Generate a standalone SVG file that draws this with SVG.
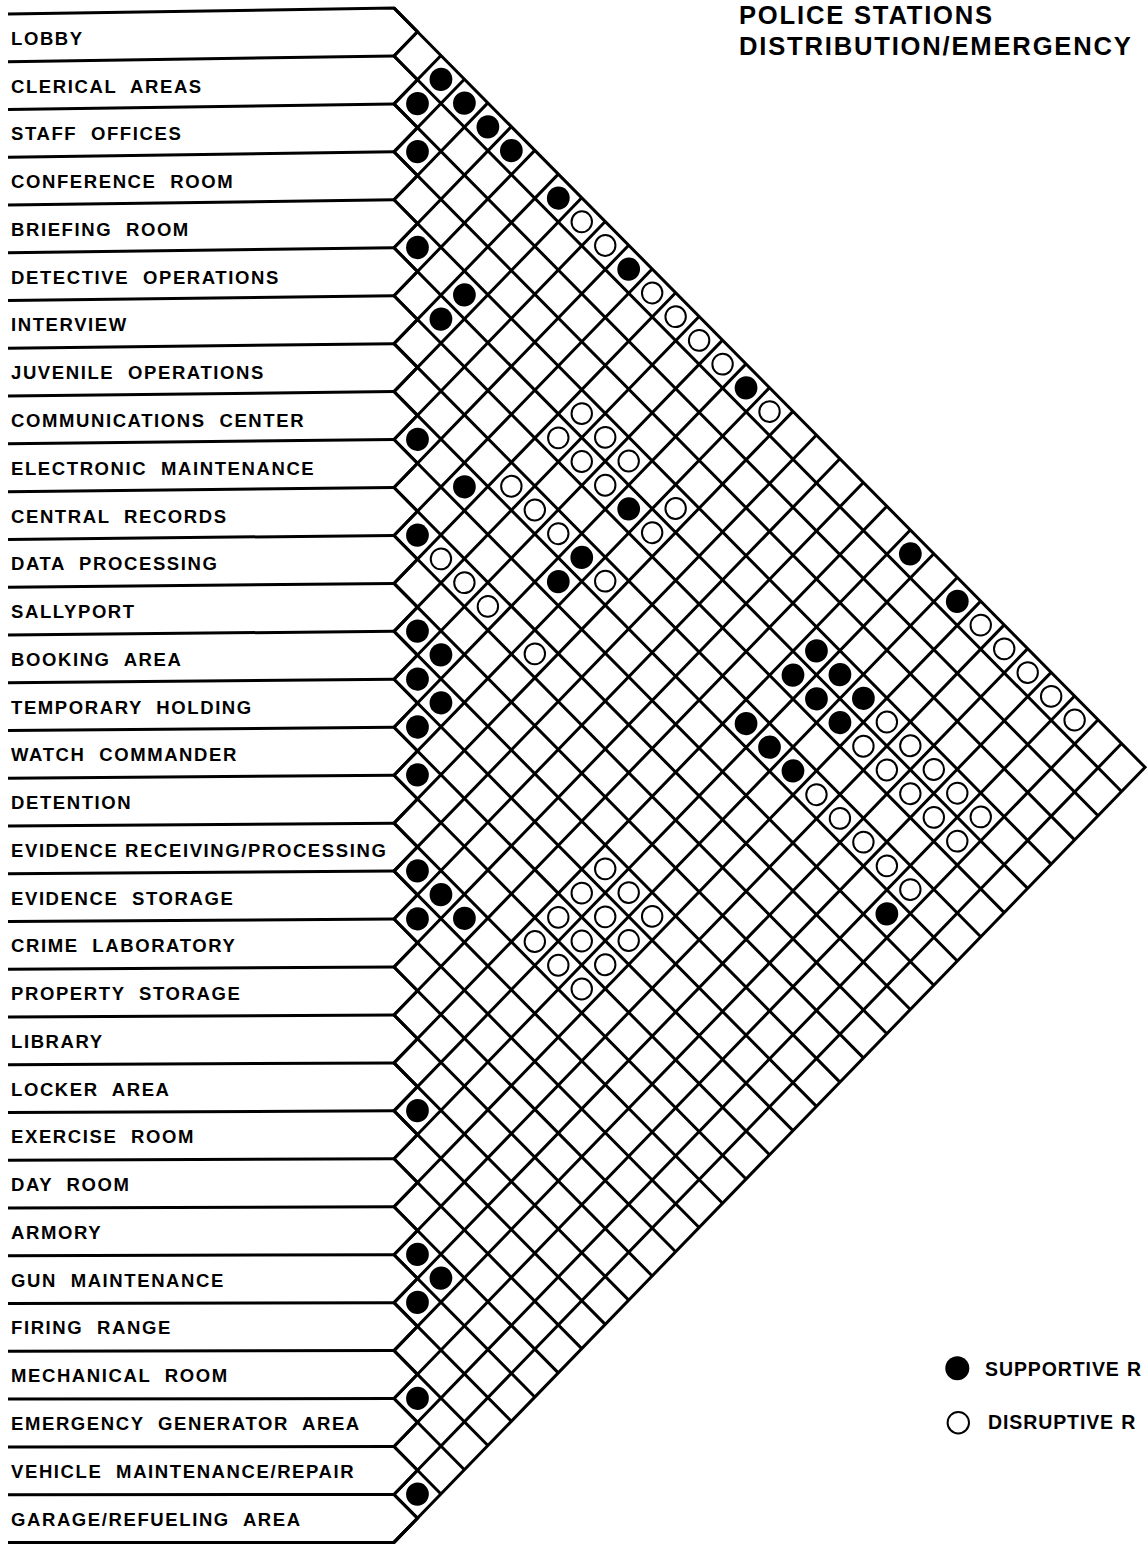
<svg xmlns="http://www.w3.org/2000/svg" width="1148" height="1544" viewBox="0 0 1148 1544">
<style>
.lbl{font-family:"Liberation Sans",Arial,Helvetica,sans-serif;font-weight:bold;font-size:18.5px;letter-spacing:1.6px;word-spacing:7px;fill:#000}
.ttl{font-family:"Liberation Sans",Arial,Helvetica,sans-serif;font-weight:bold;font-size:25.6px;letter-spacing:1.8px;fill:#000}
.leg{font-family:"Liberation Sans",Arial,Helvetica,sans-serif;font-weight:bold;font-size:19.5px;letter-spacing:0.9px;word-spacing:1px;fill:#000}
.ln{fill:none;stroke:#000;stroke-width:3;stroke-linejoin:miter}
.g{fill:none;stroke:#000;stroke-width:3;vector-effect:non-scaling-stroke;stroke-linejoin:miter}
.b{fill:#000}
.o{fill:#fff;stroke:#000;stroke-width:2;vector-effect:non-scaling-stroke}
</style>
<rect width="1148" height="1544" fill="#fff"/>
<g id="title">
<text class="ttl" x="739" y="24">POLICE STATIONS</text>
<text class="ttl" x="739" y="55">DISTRIBUTION/EMERGENCY</text>
</g>
<g id="connectors">
<path class="ln" d="M8,14L394,8L417.47,31.73 M8,61.76L394,55.95 M8,109.53L394,103.9 M8,157.29L394,151.85 M8,205.05L394,199.8 M8,252.81L394,247.75 M8,300.58L394,295.7 M8,348.34L394,343.65 M8,396.1L394,391.6 M8,443.86L394,439.55 M8,491.63L394,487.5 M8,539.39L394,535.45 M8,587.15L394,583.4 M8,634.91L394,631.35 M8,682.68L394,679.3 M8,730.44L394,727.25 M8,778.2L394,775.2 M8,825.96L394,823.15 M8,873.73L394,871.1 M8,921.49L394,919.05 M8,969.25L394,967 M8,1017.01L394,1014.95 M8,1064.78L394,1062.9 M8,1112.54L394,1110.85 M8,1160.3L394,1158.8 M8,1208.06L394,1206.75 M8,1255.83L394,1254.7 M8,1303.59L394,1302.65 M8,1351.35L394,1350.6 M8,1399.11L394,1398.55 M8,1446.88L394,1446.5 M8,1494.64L394,1494.45 M8,1542.4L394,1542.4L417.47,1518.18"/>
<g transform="matrix(23.47,-0.2488,0,23.975,394,8)">
<path class="g" d="M0,2L31,33 M0,4L30,34 M0,6L29,35 M0,8L28,36 M0,10L27,37 M0,12L26,38 M0,14L25,39 M0,16L24,40 M0,18L23,41 M0,20L22,42 M0,22L21,43 M0,24L20,44 M0,26L19,45 M0,28L18,46 M0,30L17,47 M0,32L16,48 M0,34L15,49 M0,36L14,50 M0,38L13,51 M0,40L12,52 M0,42L11,53 M0,44L10,54 M0,46L9,55 M0,48L8,56 M0,50L7,57 M0,52L6,58 M0,54L5,59 M0,56L4,60 M0,58L3,61 M0,60L2,62 M0,62L1,63"/>
<path class="g" d="M0,2L1,1 M0,4L2,2 M0,6L3,3 M0,8L4,4 M0,10L5,5 M0,12L6,6 M0,14L7,7 M0,16L8,8 M0,18L9,9 M0,20L10,10 M0,22L11,11 M0,24L12,12 M0,26L13,13 M0,28L14,14 M0,30L15,15 M0,32L16,16 M0,34L17,17 M0,36L18,18 M0,38L19,19 M0,40L20,20 M0,42L21,21 M0,44L22,22 M0,46L23,23 M0,48L24,24 M0,50L25,25 M0,52L26,26 M0,54L27,27 M0,56L28,28 M0,58L29,29 M0,60L30,30 M0,62L31,31"/>
<path class="g" d="M0,0L32,32L0,64"/>
<path class="g" d="M0,0L1,1 0,2 1,3 0,4 1,5 0,6 1,7 0,8 1,9 0,10 1,11 0,12 1,13 0,14 1,15 0,16 1,17 0,18 1,19 0,20 1,21 0,22 1,23 0,24 1,25 0,26 1,27 0,28 1,29 0,30 1,31 0,32 1,33 0,34 1,35 0,36 1,37 0,38 1,39 0,40 1,41 0,42 1,43 0,44 1,45 0,46 1,47 0,48 1,49 0,50 1,51 0,52 1,53 0,54 1,55 0,56 1,57 0,58 1,59 0,60 1,61 0,62 1,63 0,64"/>
</g>
</g>
<g id="rows">
<g id="row-01"><text class="lbl" x="11" y="44.88">LOBBY</text></g>
<g id="row-02"><text class="lbl" x="11" y="92.65">CLERICAL AREAS</text></g>
<g id="row-03"><text class="lbl" x="11" y="140.41">STAFF OFFICES</text></g>
<g id="row-04"><text class="lbl" x="11" y="188.17">CONFERENCE ROOM</text></g>
<g id="row-05"><text class="lbl" x="11" y="235.93">BRIEFING ROOM</text></g>
<g id="row-06"><text class="lbl" x="11" y="283.7">DETECTIVE OPERATIONS</text></g>
<g id="row-07"><text class="lbl" x="11" y="331.46">INTERVIEW</text></g>
<g id="row-08"><text class="lbl" x="11" y="379.22">JUVENILE OPERATIONS</text></g>
<g id="row-09"><text class="lbl" x="11" y="426.98">COMMUNICATIONS CENTER</text></g>
<g id="row-10"><text class="lbl" x="11" y="474.75">ELECTRONIC MAINTENANCE</text></g>
<g id="row-11"><text class="lbl" x="11" y="522.51">CENTRAL RECORDS</text></g>
<g id="row-12"><text class="lbl" x="11" y="570.27">DATA PROCESSING</text></g>
<g id="row-13"><text class="lbl" x="11" y="618.03">SALLYPORT</text></g>
<g id="row-14"><text class="lbl" x="11" y="665.8">BOOKING AREA</text></g>
<g id="row-15"><text class="lbl" x="11" y="713.56">TEMPORARY HOLDING</text></g>
<g id="row-16"><text class="lbl" x="11" y="761.32">WATCH COMMANDER</text></g>
<g id="row-17"><text class="lbl" x="11" y="809.08">DETENTION</text></g>
<g id="row-18"><text class="lbl" x="11" y="856.85" style="word-spacing:0">EVIDENCE RECEIVING/PROCESSING</text></g>
<g id="row-19"><text class="lbl" x="11" y="904.61">EVIDENCE STORAGE</text></g>
<g id="row-20"><text class="lbl" x="11" y="952.37">CRIME LABORATORY</text></g>
<g id="row-21"><text class="lbl" x="11" y="1000.13">PROPERTY STORAGE</text></g>
<g id="row-22"><text class="lbl" x="11" y="1047.9">LIBRARY</text></g>
<g id="row-23"><text class="lbl" x="11" y="1095.66">LOCKER AREA</text></g>
<g id="row-24"><text class="lbl" x="11" y="1143.42">EXERCISE ROOM</text></g>
<g id="row-25"><text class="lbl" x="11" y="1191.18">DAY ROOM</text></g>
<g id="row-26"><text class="lbl" x="11" y="1238.95">ARMORY</text></g>
<g id="row-27"><text class="lbl" x="11" y="1286.71">GUN MAINTENANCE</text></g>
<g id="row-28"><text class="lbl" x="11" y="1334.47">FIRING RANGE</text></g>
<g id="row-29"><text class="lbl" x="11" y="1382.23">MECHANICAL ROOM</text></g>
<g id="row-30"><text class="lbl" x="11" y="1430">EMERGENCY GENERATOR AREA</text></g>
<g id="row-31"><text class="lbl" x="11" y="1477.76">VEHICLE MAINTENANCE/REPAIR</text></g>
<g id="row-32"><text class="lbl" x="11" y="1525.52">GARAGE/REFUELING AREA</text></g>
</g>
<g id="relations" transform="matrix(23.47,-0.2488,0,23.975,394,8)">
<g id="supportive">
<circle class="b" cx="2" cy="3" r="0.485"/><circle class="b" cx="1" cy="4" r="0.485"/><circle class="b" cx="3" cy="4" r="0.485"/><circle class="b" cx="4" cy="5" r="0.485"/><circle class="b" cx="5" cy="6" r="0.485"/><circle class="b" cx="1" cy="6" r="0.485"/><circle class="b" cx="7" cy="8" r="0.485"/><circle class="b" cx="1" cy="10" r="0.485"/><circle class="b" cx="3" cy="12" r="0.485"/><circle class="b" cx="2" cy="13" r="0.485"/><circle class="b" cx="10" cy="11" r="0.485"/><circle class="b" cx="15" cy="16" r="0.485"/><circle class="b" cx="1" cy="18" r="0.485"/><circle class="b" cx="3" cy="20" r="0.485"/><circle class="b" cx="10" cy="21" r="0.485"/><circle class="b" cx="1" cy="22" r="0.485"/><circle class="b" cx="8" cy="23" r="0.485"/><circle class="b" cx="7" cy="24" r="0.485"/><circle class="b" cx="1" cy="26" r="0.485"/><circle class="b" cx="2" cy="27" r="0.485"/><circle class="b" cx="1" cy="28" r="0.485"/><circle class="b" cx="2" cy="29" r="0.485"/><circle class="b" cx="1" cy="30" r="0.485"/><circle class="b" cx="1" cy="32" r="0.485"/><circle class="b" cx="22" cy="23" r="0.485"/><circle class="b" cx="24" cy="25" r="0.485"/><circle class="b" cx="18" cy="27" r="0.485"/><circle class="b" cx="17" cy="28" r="0.485"/><circle class="b" cx="19" cy="28" r="0.485"/><circle class="b" cx="18" cy="29" r="0.485"/><circle class="b" cx="20" cy="29" r="0.485"/><circle class="b" cx="15" cy="30" r="0.485"/><circle class="b" cx="19" cy="30" r="0.485"/><circle class="b" cx="16" cy="31" r="0.485"/><circle class="b" cx="17" cy="32" r="0.485"/><circle class="b" cx="21" cy="38" r="0.485"/><circle class="b" cx="1" cy="36" r="0.485"/><circle class="b" cx="2" cy="37" r="0.485"/><circle class="b" cx="1" cy="38" r="0.485"/><circle class="b" cx="3" cy="38" r="0.485"/><circle class="b" cx="1" cy="46" r="0.485"/><circle class="b" cx="1" cy="52" r="0.485"/><circle class="b" cx="2" cy="53" r="0.485"/><circle class="b" cx="1" cy="54" r="0.485"/><circle class="b" cx="1" cy="58" r="0.485"/><circle class="b" cx="1" cy="62" r="0.485"/>
</g>
<g id="disruptive">
<circle class="o" cx="8" cy="9" r="0.435"/><circle class="o" cx="9" cy="10" r="0.435"/><circle class="o" cx="11" cy="12" r="0.435"/><circle class="o" cx="12" cy="13" r="0.435"/><circle class="o" cx="13" cy="14" r="0.435"/><circle class="o" cx="14" cy="15" r="0.435"/><circle class="o" cx="16" cy="17" r="0.435"/><circle class="o" cx="8" cy="17" r="0.435"/><circle class="o" cx="7" cy="18" r="0.435"/><circle class="o" cx="9" cy="18" r="0.435"/><circle class="o" cx="8" cy="19" r="0.435"/><circle class="o" cx="10" cy="19" r="0.435"/><circle class="o" cx="5" cy="20" r="0.435"/><circle class="o" cx="9" cy="20" r="0.435"/><circle class="o" cx="12" cy="21" r="0.435"/><circle class="o" cx="6" cy="21" r="0.435"/><circle class="o" cx="11" cy="22" r="0.435"/><circle class="o" cx="7" cy="22" r="0.435"/><circle class="o" cx="9" cy="24" r="0.435"/><circle class="o" cx="2" cy="23" r="0.435"/><circle class="o" cx="3" cy="24" r="0.435"/><circle class="o" cx="4" cy="25" r="0.435"/><circle class="o" cx="6" cy="27" r="0.435"/><circle class="o" cx="25" cy="26" r="0.435"/><circle class="o" cx="26" cy="27" r="0.435"/><circle class="o" cx="27" cy="28" r="0.435"/><circle class="o" cx="28" cy="29" r="0.435"/><circle class="o" cx="29" cy="30" r="0.435"/><circle class="o" cx="21" cy="30" r="0.435"/><circle class="o" cx="20" cy="31" r="0.435"/><circle class="o" cx="22" cy="31" r="0.435"/><circle class="o" cx="21" cy="32" r="0.435"/><circle class="o" cx="23" cy="32" r="0.435"/><circle class="o" cx="18" cy="33" r="0.435"/><circle class="o" cx="22" cy="33" r="0.435"/><circle class="o" cx="24" cy="33" r="0.435"/><circle class="o" cx="19" cy="34" r="0.435"/><circle class="o" cx="23" cy="34" r="0.435"/><circle class="o" cx="25" cy="34" r="0.435"/><circle class="o" cx="20" cy="35" r="0.435"/><circle class="o" cx="24" cy="35" r="0.435"/><circle class="o" cx="21" cy="36" r="0.435"/><circle class="o" cx="22" cy="37" r="0.435"/><circle class="o" cx="9" cy="36" r="0.435"/><circle class="o" cx="8" cy="37" r="0.435"/><circle class="o" cx="10" cy="37" r="0.435"/><circle class="o" cx="7" cy="38" r="0.435"/><circle class="o" cx="9" cy="38" r="0.435"/><circle class="o" cx="11" cy="38" r="0.435"/><circle class="o" cx="6" cy="39" r="0.435"/><circle class="o" cx="8" cy="39" r="0.435"/><circle class="o" cx="10" cy="39" r="0.435"/><circle class="o" cx="7" cy="40" r="0.435"/><circle class="o" cx="9" cy="40" r="0.435"/><circle class="o" cx="8" cy="41" r="0.435"/>
</g>
</g>
<g id="legend">
<circle class="b" cx="957.3" cy="1368.3" r="12"/>
<text class="leg" x="985" y="1375.7">SUPPORTIVE R</text>
<circle class="o" cx="958.3" cy="1422.7" r="10.7"/>
<text class="leg" x="988" y="1429.3">DISRUPTIVE R</text>
</g>
</svg>
